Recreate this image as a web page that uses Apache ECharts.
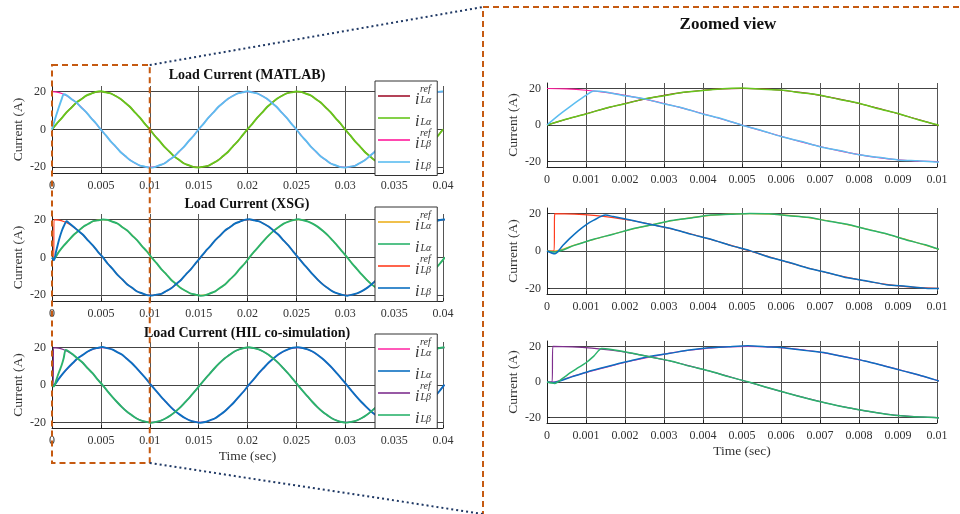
<!DOCTYPE html>
<html><head><meta charset="utf-8">
<script src="https://cdn.jsdelivr.net/npm/echarts@6/dist/echarts.min.js"></script>
<style>html,body{margin:0;padding:0;background:#fff}#c{width:960px;height:514px}</style>
</head><body><div id="c"></div>
<script>
// ---------------- DATA ----------------
const SAMPLE_STEP = 0.0005;       // sampling interval of the traces (s)
const N_SAMPLES = 81;             // 0 .. 0.04 s
const DELAY_MATLAB = 0;
const DELAY_XSG = 0.0002;
const DELAY_HIL = 0.00015;

// reference currents (A)
const refAlpha = [0,3.13,6.18,9.08,11.76,14.14,16.18,17.82,19.02,19.75,
20,19.75,19.02,17.82,16.18,14.14,11.76,9.08,6.18,3.13,
0,-3.13,-6.18,-9.08,-11.76,-14.14,-16.18,-17.82,-19.02,-19.75,
-20,-19.75,-19.02,-17.82,-16.18,-14.14,-11.76,-9.08,-6.18,-3.13,
0,3.13,6.18,9.08,11.76,14.14,16.18,17.82,19.02,19.75,
20,19.75,19.02,17.82,16.18,14.14,11.76,9.08,6.18,3.13,
0,-3.13,-6.18,-9.08,-11.76,-14.14,-16.18,-17.82,-19.02,-19.75,
-20,-19.75,-19.02,-17.82,-16.18,-14.14,-11.76,-9.08,-6.18,-3.13,
0];
const refBeta = [20,19.75,19.02,17.82,16.18,14.14,11.76,9.08,6.18,3.13,
0,-3.13,-6.18,-9.08,-11.76,-14.14,-16.18,-17.82,-19.02,-19.75,
-20,-19.75,-19.02,-17.82,-16.18,-14.14,-11.76,-9.08,-6.18,-3.13,
0,3.13,6.18,9.08,11.76,14.14,16.18,17.82,19.02,19.75,
20,19.75,19.02,17.82,16.18,14.14,11.76,9.08,6.18,3.13,
0,-3.13,-6.18,-9.08,-11.76,-14.14,-16.18,-17.82,-19.02,-19.75,
-20,-19.75,-19.02,-17.82,-16.18,-14.14,-11.76,-9.08,-6.18,-3.13,
0,3.13,6.18,9.08,11.76,14.14,16.18,17.82,19.02,19.75,
20];

// measured currents (A)
const matAlpha = [0,3.3,6.0,9.2,11.6,14.3,16.0,17.9,18.9,19.9,
20.2,19.6,19.1,17.7,16.3,14.0,11.9,8.9,6.3,3.0,
0.1,-3.3,-6.0,-9.2,-11.6,-14.3,-16.0,-18.0,-18.9,-19.9,
-20.1,-19.6,-19.2,-17.7,-16.3,-14.0,-11.9,-8.9,-6.3,-3.0,
0.2,3.0,6.3,8.9,11.9,14.0,16.3,17.7,19.1,19.6,
20.1,19.9,18.9,18.0,16.0,14.3,11.6,9.2,6.0,3.3,
-0.1,-3.0,-6.3,-8.9,-11.9,-14.0,-16.3,-17.7,-19.1,-19.6,
-20.2,-19.9,-18.9,-18.0,-16.0,-14.3,-11.6,-9.2,-6.0,-3.3,
0.1];
const matBetaStart = [[0,0],[0.0002,3.6],[0.0004,7.0],[0.0006,10.2],[0.0008,13.3],[0.001,16.2],[0.0012,18.6]];
const matBeta = [0,10,17,18.1,16.0,14.3,11.6,9.2,6.0,3.3,
-0.1,-3.0,-6.3,-8.9,-11.9,-14.0,-16.3,-17.7,-19.1,-19.6,
-20.2,-19.9,-18.9,-18.0,-16.0,-14.3,-11.6,-9.2,-6.0,-3.3,
0.1,3.0,6.3,8.9,11.9,14.0,16.3,17.7,19.1,19.6,
20.2,19.6,19.1,17.7,16.3,14.0,11.9,8.9,6.3,3.0,
0.1,-3.3,-6.0,-9.2,-11.6,-14.3,-16.0,-18.0,-18.9,-19.9,
-20.1,-19.6,-19.2,-17.7,-16.3,-14.0,-11.9,-8.9,-6.3,-3.0,
0.2,3.3,6.0,9.2,11.6,14.3,16.0,17.9,18.9,19.9,
20.1];

const xsgAlphaStart = [[0,0]];
const xsgAlpha = [-0.6,3.0,6.3,9.0,11.9,14.0,16.3,17.7,19.2,19.6,
20.1,19.9,18.9,18.0,16.0,14.3,11.6,9.2,6.0,3.3,
-0.1,-3.0,-6.3,-8.9,-11.9,-14.0,-16.3,-17.7,-19.1,-19.6,
-20.2,-19.9,-18.9,-17.9,-16.0,-14.3,-11.6,-9.2,-6.0,-3.3,
0.1,3.2,6.1,9.1,11.8,14.2,16.1,17.9,19.0,19.8,
20.2,19.7,19.0,17.8,16.2,14.1,11.8,9.0,6.2,3.1,
0.1,-3.2,-6.1,-9.1,-11.8,-14.2,-16.1,-17.9,-19.0,-19.8,
-20.1,-19.7,-19.1,-17.8,-16.2,-14.1,-11.8,-9.0,-6.2,-3.1,
0.1];
const xsgRefBetaStart = [[0,0],[0.00018,0]];
const xsgBetaStart = [[0,0],[0.0002,-1.5],[0.0004,2.8],[0.0006,7.0],[0.0008,10.8],[0.001,14.0],[0.0012,16.5],[0.0015,19.2]];
const xsgBeta = [-1.5,9,16.5,18.4,16.3,14.0,11.9,8.9,6.3,3.0,
0.2,-3.3,-6.0,-9.2,-11.6,-14.3,-16.0,-18.0,-18.9,-19.9,
-20.1,-19.6,-19.2,-17.7,-16.3,-14.0,-11.9,-8.9,-6.3,-3.0,
0.1,3.3,6.0,9.2,11.6,14.3,16.0,17.9,18.9,19.9,
20.2,19.6,19.1,17.7,16.3,14.0,11.9,8.9,6.3,3.0,
-0.1,-3.2,-6.1,-9.1,-11.8,-14.2,-16.1,-17.9,-19.0,-19.8,
-20.2,-19.7,-19.0,-17.8,-16.2,-14.1,-11.8,-9.0,-6.2,-3.1,
0.1,3.2,6.1,9.1,11.8,14.2,16.1,17.9,19.0,19.8,
20.1];

const hilAlphaStart = [[0,0]];
const hilAlpha = [-0.3,3.0,6.4,9.3,11.9,14.4,16.1,17.9,19.2,19.8,
20.3,19.7,19.0,17.6,16.3,14.0,11.8,9.0,6.1,3.2,
-0.1,-3.2,-6.2,-9.0,-11.8,-14.2,-16.1,-17.8,-19.1,-19.7,
-20.2,-19.8,-18.9,-17.9,-16.1,-14.2,-11.7,-9.1,-6.1,-3.2,
0.2,3.1,6.3,9.1,11.9,14.2,16.3,17.9,19.1,19.9,
20.2,19.8,19.1,17.9,16.2,14.2,11.8,9.2,6.2,3.2,
0.1,-3.1,-6.2,-9.1,-11.7,-14.2,-16.2,-17.9,-19.1,-19.8,
-20.1,-19.8,-19.0,-17.9,-16.1,-14.2,-11.8,-9.1,-6.2,-3.2,
0.2];
const hilRefBetaStart = [[0,0],[0.00013,0]];
const hilBetaStart = [[0,0],[0.0002,-0.8],[0.0004,2.0],[0.0006,5.2],[0.0008,8.0],[0.001,10.8],[0.0012,14.5],[0.0014,18.8]];
const hilBeta = [-0.4,5.2,13.0,18.2,16.3,14.0,11.9,8.9,6.3,3.0,
0.1,-3.1,-6.2,-9.1,-11.8,-14.2,-16.1,-17.9,-19.1,-19.7,
-20.2,-19.7,-19.1,-17.8,-16.2,-14.1,-11.8,-9.0,-6.2,-3.1,
0.1,3.2,6.1,9.1,11.8,14.2,16.1,17.9,19.0,19.8,
20.2,19.7,19.0,17.8,16.2,14.1,11.8,9.0,6.2,3.1,
-0.1,-3.2,-6.1,-9.1,-11.8,-14.2,-16.1,-17.9,-19.0,-19.8,
-20.1,-19.7,-19.1,-17.8,-16.2,-14.1,-11.8,-9.0,-6.2,-3.1,
0.1,3.2,6.1,9.1,11.8,14.2,16.1,17.9,19.0,19.8,
20.2];

const panelTitles = ['Load Current (MATLAB)', 'Load Current (XSG)', 'Load Current (HIL co-simulation)'];
const zoomTitle = 'Zoomed view';
const yTicks = [-20, 0, 20];
const legendKeys = ['aref', 'a', 'bref', 'b'];

// ---------------- BUILD ----------------
function build(start, values, delay) {
  const out = start.slice();
  const lastT = out.length ? out[out.length - 1][0] : -1;
  for (let k = 0; k < N_SAMPLES; k++) {
    const t = +(k * SAMPLE_STEP + delay).toFixed(6);
    if (t > lastT) out.push([t, values[k]]);
  }
  return out;
}

const panels = [
  { key: 'MATLAB', colors: ['#a2142f', '#66c61c', '#ff1a9c', '#5cbdf0'],
    data: [build([], refAlpha, DELAY_MATLAB), build([], matAlpha, DELAY_MATLAB),
           build([], refBeta, DELAY_MATLAB), build(matBetaStart, matBeta, DELAY_MATLAB)] },
  { key: 'XSG', colors: ['#edb120', '#2bb36c', '#ff3d1f', '#0b6fc0'],
    data: [build([[0,0]], refAlpha, DELAY_XSG), build(xsgAlphaStart, xsgAlpha, DELAY_XSG),
           build(xsgRefBetaStart, refBeta, DELAY_XSG), build(xsgBetaStart, xsgBeta, DELAY_XSG)] },
  { key: 'HIL', colors: ['#ff2fa8', '#0b6fc0', '#7e2f8e', '#2bb36c'],
    data: [build([[0,0]], refAlpha, DELAY_HIL), build(hilAlphaStart, hilAlpha, DELAY_HIL),
           build(hilRefBetaStart, refBeta, DELAY_HIL), build(hilBetaStart, hilBeta, DELAY_HIL)] }
];

const FONT = '"Liberation Serif","Times New Roman",serif';
const gridBoxes = [
  {left:52, top:86, width:391, height:87},
  {left:52, top:214, width:391, height:87},
  {left:52, top:342, width:391, height:86},
  {left:547, top:83, width:390, height:84},
  {left:547, top:208, width:390, height:86},
  {left:547, top:341, width:390, height:82}
];

const grid = gridBoxes.map(g => Object.assign({outerBoundsMode:'none', containLabel:false}, g));
const xAxis = [], yAxis = [], series = [], legend = [];
const fmt = v => String(+v.toFixed(4));

gridBoxes.forEach((g, i) => {
  const left = i < 3;
  const last = (i === 2 || i === 5);
  xAxis.push({
    type:'value', gridIndex:i, min:0, max: left ? 0.04 : 0.01, interval: left ? 0.005 : 0.001,
    axisLine:{show:true, onZero:false, lineStyle:{color:'#222', width:1}},
    axisTick:{show:true, inside:true, length:3, lineStyle:{color:'#222'}},
    axisLabel:{show:true, formatter:fmt, fontFamily:FONT, fontSize:12, color:'#333', margin:7},
    splitLine:{show:true, lineStyle:{color:'#555', width:1}},
    name: last ? 'Time (sec)' : '', nameLocation:'middle', nameGap:21,
    nameTextStyle:{fontFamily:FONT, fontSize:13.5, color:'#333'}
  });
  yAxis.push({
    type:'value', gridIndex:i, min:-23, max:23,
    axisLine:{show:true, lineStyle:{color:'#222', width:1}},
    axisTick:{show:true, inside:true, length:3, customValues:yTicks, lineStyle:{color:'#222'}},
    axisLabel:{show:true, customValues:yTicks, fontFamily:FONT, fontSize:12, color:'#333', margin:6},
    splitLine:{show:true, lineStyle:{color:'#444', width:1}},
    name:'Current (A)', nameLocation:'middle', nameGap:27,
    nameTextStyle:{fontFamily:FONT, fontSize:13.5, color:'#333'}
  });
  const p = panels[i % 3];
  legendKeys.forEach((lk, s) => {
    const measured = (s % 2 === 1);
    series.push({
      type:'line', name: (left ? '' : 'zoom ') + p.key + '|' + lk,
      xAxisIndex:i, yAxisIndex:i, data:p.data[s],
      symbol:'none', showSymbol:false, smooth:0.25, animation:false, silent:true,
      lineStyle:{color:p.colors[s], width: measured ? (left ? 1.9 : 1.5) : 1.2},
      itemStyle:{color:p.colors[s]}, clip:true, z: measured ? 3 : 2
    });
  });
});

const legendLabel = {
  aref: '{sup|ref}\n{i|i}{sub|Lα}',
  a:    '{sup| }\n{i|i}{sub|Lα}',
  bref: '{sup|ref}\n{i|i}{sub|Lβ}',
  b:    '{sup| }\n{i|i}{sub|Lβ}'
};
const legendTops = [81, 207, 334];
panels.forEach((p, i) => {
  legend.push({
    data: legendKeys.map(k => p.key + '|' + k),
    orient:'vertical', left:375, top:legendTops[i],
    itemWidth:32, itemHeight:12, itemGap:-1.5, padding:[3,6,2,3],
    backgroundColor:'#fff', borderColor:'#333', borderWidth:1, borderRadius:0,
    selectedMode:false, icon:'path://M0,0L32,0L32,1.6L0,1.6Z',
    formatter: name => legendLabel[name.split('|')[1]],
    textStyle:{
      fontFamily:FONT, color:'#333',
      rich:{
        sup:{fontFamily:FONT, fontStyle:'italic', fontSize:10, lineHeight:5, padding:[0,0,0,5], color:'#333'},
        i:{fontFamily:FONT, fontStyle:'italic', fontSize:16, lineHeight:14, verticalAlign:'top', color:'#333'},
        sub:{fontFamily:FONT, fontStyle:'italic', fontSize:10, lineHeight:14, verticalAlign:'bottom', padding:[0,0,0,1], color:'#333'}
      }
    }
  });
});

const chart = echarts.init(document.getElementById('c'), null, {renderer:'canvas'});
chart.setOption({
  animation:false, backgroundColor:'#fff',
  grid, xAxis, yAxis, series, legend
});

// decorations: titles, zoom boxes and connector lines
const xLeft = chart.convertToPixel({xAxisIndex:0}, 0);
const xZoom = chart.convertToPixel({xAxisIndex:0}, 0.01);
const graphics = [];
[75, 204, 333].forEach((y, i) => graphics.push({
  type:'text', x:247, y:y, z:50,
  style:{text:panelTitles[i], font:'bold 14px ' + FONT, fill:'#111', align:'center', verticalAlign:'middle'}
}));
graphics.push({type:'text', x:728, y:25, z:50,
  style:{text:zoomTitle, font:'bold 17px ' + FONT, fill:'#111', align:'center', verticalAlign:'middle'}});
graphics.push({type:'rect', z:60, shape:{x:xLeft, y:65, width:xZoom - xLeft, height:398},
  style:{fill:'none', stroke:'#c55a11', lineWidth:2, lineDash:[6,4]}});
graphics.push({type:'rect', z:60, shape:{x:483, y:7, width:520, height:540},
  style:{fill:'none', stroke:'#c55a11', lineWidth:2, lineDash:[6,4]}});
graphics.push({type:'polyline', z:60, shape:{points:[[xZoom,65],[483,7]]},
  style:{fill:'none', stroke:'#1f3864', lineWidth:2, lineDash:[2,3]}});
graphics.push({type:'polyline', z:60, shape:{points:[[xZoom,463],[483,514]]},
  style:{fill:'none', stroke:'#1f3864', lineWidth:2, lineDash:[2,3]}});
chart.setOption({graphic:graphics});
</script></body></html>
